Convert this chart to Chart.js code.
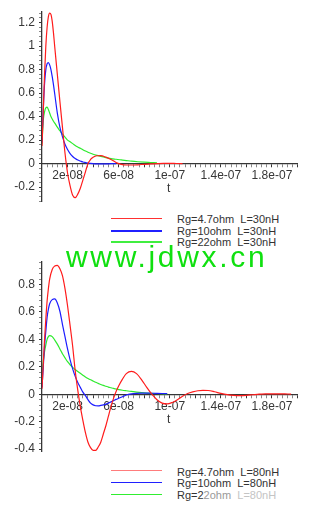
<!DOCTYPE html>
<html>
<head>
<meta charset="utf-8">
<script src="https://cdn.jsdelivr.net/npm/chart.js@4.4.1/dist/chart.umd.min.js"></script>
<style>
  html, body { margin:0; padding:0; background:#fff; overflow:hidden; }
  body { width:328px; height:512px; position:relative; font-family:"Liberation Sans", Arial, sans-serif; }
  canvas { position:absolute; left:0; }
  #topChart { top:0; }
  #botChart { top:250px; }
  .lg-line { position:absolute; left:111px; width:51px; height:1.5px; }
  .lg-text { position:absolute; left:177px; font-size:11px; line-height:11px; color:#333; white-space:pre; }
  #mark { position:absolute; left:66px; top:242px; font-size:30px; line-height:30px; color:#10e010;
          letter-spacing:2.7px; white-space:pre; z-index:5; }
</style>
</head>
<body>
<canvas id="topChart" width="328" height="213"></canvas>
<canvas id="botChart" width="328" height="213"></canvas>

<div class="lg-line" style="top:217.5px;background:#ff3030"></div>
<div class="lg-line" style="top:230px;background:#2020ff"></div>
<div class="lg-line" style="top:241px;background:#40ee40"></div>
<div class="lg-text" style="top:214px">Rg=4.7ohm  L=30nH</div>
<div class="lg-text" style="top:226px">Rg=10ohm  L=30nH</div>
<div class="lg-text" style="top:237px">Rg=22ohm  L=30nH</div>

<div class="lg-line" style="top:469.5px;background:#ff7c7c"></div>
<div class="lg-line" style="top:481.5px;background:#2020ff"></div>
<div class="lg-line" style="top:493.5px;background:#30ee30"></div>
<div class="lg-text" style="top:466.5px">Rg=4.7ohm  L=80nH</div>
<div class="lg-text" style="top:478px">Rg=10ohm  L=80nH</div>
<div class="lg-text" style="top:490px">Rg=2<span style="color:#999">2ohm</span>  <span style="color:#c4c4c4">L=80nH</span></div>

<div id="mark">www.jdwx.cn</div>

<script>
// time in ns, current values
const tTopNs = [0,1,2,3,4,5,6,7,8,9,10,12,14,16,18,20,22,24,26,28,30,32,34,36,38,40,43,46,50,54,58,62,66,70,75,80,85,90,95,100,105,110];
const redTop = [0.15,0.45,0.76,1.0,1.16,1.25,1.28,1.27,1.21,1.11,0.99,0.76,0.53,0.31,0.09,-0.08,-0.19,-0.27,-0.29,-0.26,-0.21,-0.14,-0.07,0.0,0.035,0.055,0.067,0.068,0.055,0.035,0.01,-0.006,-0.012,-0.012,-0.01,-0.006,-0.003,0,0.002,0.002,0.001,0];
const blueTop = [0.18,0.46,0.68,0.80,0.85,0.86,0.84,0.80,0.74,0.67,0.59,0.43,0.31,0.23,0.165,0.12,0.085,0.06,0.043,0.03,0.022,0.014,0.009,0.005,0.002,0,-0.002,-0.003,-0.002,-0.001,0,null,null,null,null,null,null,null,null,null,null,null];
const greenTop = [0.17,0.37,0.44,0.475,0.48,0.46,0.43,0.40,0.38,0.36,0.345,0.31,0.28,0.25,0.225,0.2,0.185,0.17,0.155,0.142,0.13,0.118,0.107,0.097,0.088,0.08,0.07,0.061,0.051,0.043,0.037,0.031,0.026,0.021,0.016,0.012,0.009,0.006,null,null,null,null];

const tBotNs = [0,1,2,3,4,5,6,8,10,12,14,16,18,20,22,24,26,28,30,32,34,36,38,40,42,44,46,48,50,52,54,56,58,60,63,66,70,74,78,82,86,90,94,98,102,106,110,114,118,122,126,130,135,140,145,150,155,160,165,170,175,180,185,190,195];
const redBot = [0.04,0.22,0.40,0.55,0.68,0.77,0.84,0.91,0.935,0.94,0.915,0.865,0.77,0.645,0.50,0.35,0.17,0.03,-0.09,-0.19,-0.28,-0.35,-0.39,-0.41,-0.41,-0.385,-0.35,-0.29,-0.23,-0.16,-0.09,-0.03,0.02,0.06,0.11,0.15,0.167,0.15,0.105,0.05,0.0,-0.04,-0.065,-0.071,-0.06,-0.04,-0.015,0.005,0.017,0.025,0.028,0.027,0.018,0.006,-0.003,-0.008,-0.01,-0.008,-0.004,0,0.002,0.003,0.003,0.002,0.001];
const blueBot = [0.05,0.2,0.35,0.46,0.56,0.62,0.66,0.69,0.695,0.665,0.605,0.51,0.42,0.33,0.25,0.185,0.13,0.085,0.05,0.015,-0.01,-0.04,-0.065,-0.078,-0.084,-0.085,-0.082,-0.078,-0.072,-0.065,-0.056,-0.047,-0.038,-0.03,-0.018,-0.006,0.002,0.006,0.008,0.008,0.007,0.006,0.005,0.004,null,null,null,null,null,null,null,null,null,null,null,null,null,null,null,null,null,null,null,null,null];
const greenBot = [0.13,0.24,0.31,0.36,0.40,0.42,0.427,0.42,0.395,0.365,0.33,0.295,0.265,0.237,0.215,0.196,0.18,0.165,0.152,0.139,0.126,0.115,0.105,0.096,0.087,0.079,0.071,0.064,0.058,0.052,0.047,0.042,0.038,0.034,0.029,0.025,0.02,0.015,0.011,0.008,0.006,0.005,0.004,0.003,null,null,null,null,null,null,null,null,null,null,null,null,null,null,null,null,null,null,null,null,null];

const xTickNs = [20, 60, 100, 140, 180];
const xTickLabels = ['2e-08', '6e-08', '1e-07', '1.4e-07', '1.8e-07'];
const yTicksTop = [-0.2, 0, 0.2, 0.4, 0.6, 0.8, 1, 1.2];
const yLabelsTop = ['-0.2', '0', '0.2', '0.4', '0.6', '0.8', '1', '1.2'];
const yTicksBot = [-0.4, -0.2, 0, 0.2, 0.4, 0.6, 0.8];
const yLabelsBot = ['-0.4', '-0.2', '0', '0.2', '0.4', '0.6', '0.8'];

const colors = ['#ff1c1c', '#1c1cff', '#2eea2e'];
const tickFont = { family: '"Liberation Sans", Arial, sans-serif', size: 12 };
const ink = '#363636';

const axisTitle = {
  id: 'axisTitle',
  afterDraw(chart) {
    const { ctx, chartArea, scales } = chart;
    const y0 = scales.y.getPixelForValue(0);
    ctx.save();
    ctx.font = '12px "Liberation Sans", Arial, sans-serif';
    ctx.fillStyle = ink;
    ctx.textAlign = 'center';
    ctx.textBaseline = 'middle';
    ctx.fillText('t', (chartArea.left + chartArea.right) / 2 - 1, y0 + 25);
    ctx.restore();
  }
};

function near(v, list) {
  return list.findIndex(m => Math.abs(v - m) < 1e-6);
}

function makeChart(id, tNs, series, yMin, yMax, yMajors, yLabels, padTop, padBottom) {
  const datasets = series.map((s, k) => ({
    data: tNs.map((t, i) => ({ x: t * 1e-9, y: s[i] })),
    borderColor: colors[k],
    borderWidth: 1.2,
    pointRadius: 0,
    cubicInterpolationMode: 'monotone',
    spanGaps: false
  }));
  const yFirst = Math.ceil(yMin / 0.04 - 1e-6), yLast = Math.floor(yMax / 0.04 + 1e-6);
  return new Chart(document.getElementById(id), {
    type: 'line',
    data: { datasets },
    plugins: [axisTitle],
    options: {
      responsive: false,
      devicePixelRatio: 1,
      animation: false,
      layout: { padding: { top: padTop, bottom: padBottom, left: 0, right: 30.5 } },
      plugins: { legend: { display: false }, tooltip: { enabled: false } },
      scales: {
        x: {
          type: 'linear', min: 0, max: 2e-7, position: { y: 0 },
          afterFit: s => { s.height = 0; },
          afterBuildTicks: s => {
            const tk = [];
            for (let i = 1; i <= 50; i++) tk.push({ value: i * 4e-9 });
            s.ticks = tk;
          },
          border: { display: true, color: ink, width: 1.3 },
          grid: {
            drawOnChartArea: false, drawTicks: true, tickLength: 3,
            tickColor: c => near(c.tick.value * 1e9, [20,40,60,80,100,120,140,160,180,200]) >= 0 ? ink : '#888',
            tickWidth: 1
          },
          ticks: {
            autoSkip: false, maxRotation: 0, padding: 2, color: ink, font: tickFont,
            callback: v => { const j = near(v * 1e9, xTickNs); return j >= 0 ? xTickLabels[j] : ''; }
          }
        },
        y: {
          type: 'linear', min: yMin, max: yMax, position: 'left',
          afterFit: s => { s.width = 42; },
          afterBuildTicks: s => {
            const tk = [];
            for (let i = yFirst; i <= yLast; i++) tk.push({ value: Math.round(i * 4) / 100 });
            s.ticks = tk;
          },
          border: { display: true, color: ink, width: 1.3 },
          grid: {
            drawOnChartArea: false, drawTicks: true, tickLength: 3,
            tickColor: c => near(c.tick.value, yMajors) >= 0 ? ink : '#888',
            tickWidth: 1
          },
          ticks: {
            autoSkip: false, padding: 4, color: ink, font: tickFont,
            callback: v => { const j = near(v, yMajors); return j >= 0 ? yLabels[j] : ''; }
          }
        }
      }
    }
  });
}

makeChart('topChart', tTopNs, [redTop, blueTop, greenTop], -0.325, 1.29, yTicksTop, yLabelsTop, 12, 1);
makeChart('botChart', tBotNs, [redBot, blueBot, greenBot], -0.42, 0.97, yTicksBot, yLabelsBot, 10, 1);
</script>
</body>
</html>
